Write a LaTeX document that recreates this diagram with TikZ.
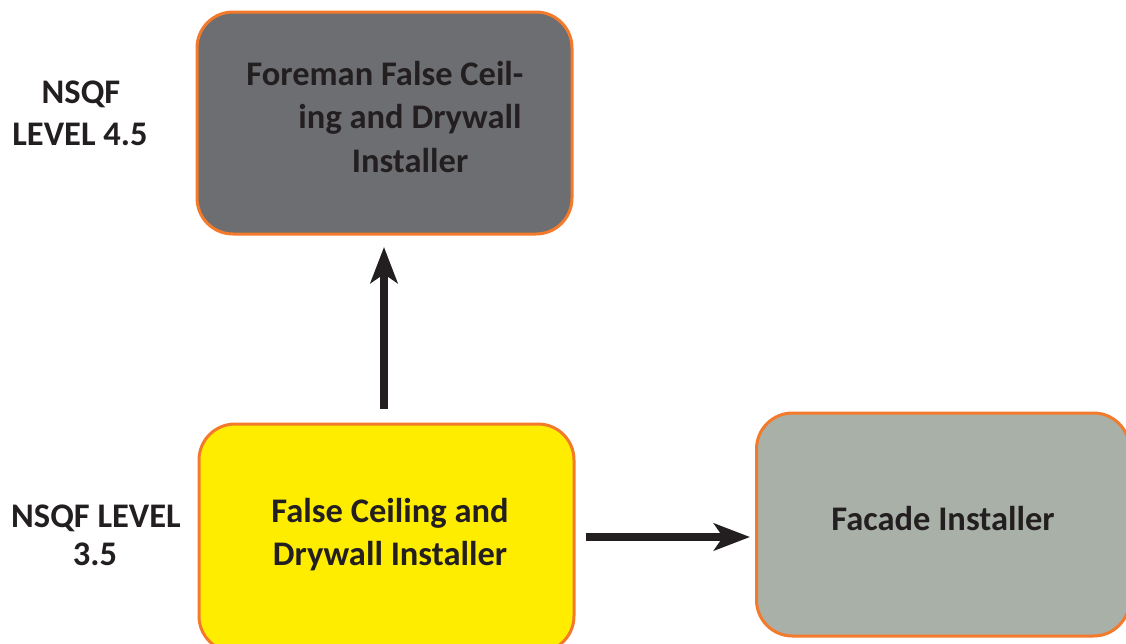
\documentclass[tikz,border=0pt]{standalone}
\usepackage{fontspec}
\setmainfont{Carlito}
\usetikzlibrary{arrows.meta}
\definecolor{boxorange}{HTML}{F37A2A}
\definecolor{darkgrayfill}{HTML}{6D6E71}
\definecolor{yellowfill}{HTML}{FFED00}
\definecolor{sagefill}{HTML}{A9B0A8}
\definecolor{inkdark}{HTML}{231F20}
\begin{document}
\begin{tikzpicture}[x=1pt,y=-1pt,
  box/.style={draw=boxorange, line width=3pt, rounded corners=36pt, inner sep=0pt},
  txt/.style={font=\fontsize{34.5}{42}\selectfont\bfseries, text=inkdark, inner sep=0pt, anchor=base},
  bigarrow/.style={draw=inkdark, line width=8pt, -{Stealth[length=36pt, width=27pt, inset=9pt]}}
]
\useasboundingbox (0,0) rectangle (1126,643);
\begin{scope}
\clip (0,0) rectangle (1126,643);
\node[box, fill=darkgrayfill, minimum width=375pt, minimum height=222pt] (top) at (384.5,123) {};
\node[box, fill=yellowfill, minimum width=375pt, minimum height=228pt] (mid) at (386.5,538) {};
\node[box, fill=sagefill, minimum width=373pt, minimum height=223pt] (fac) at (943,524.5) {};
\end{scope}
\node[txt] (t1) at (385,85) {Foreman False Ceil-};
\node[txt] (t2) at (410,128) {ing and Drywall};
\node[txt] (t3) at (410,172) {Installer};
\node[txt] (m1) at (390,522) {False Ceiling and};
\node[txt] (m2) at (390,565) {Drywall Installer};
\node[txt] (f1) at (943,530) {Facade Installer};
\node[txt] (l1) at (81,103) {NSQF};
\node[txt] (l2) at (80,145) {LEVEL 4.5};
\node[txt] (l3) at (96,527) {NSQF LEVEL};
\node[txt] (l4) at (95,565) {3.5};
\coordinate (upstart) at (384,409);
\coordinate (upend) at (384,247);
\coordinate (rstart) at (586,537);
\coordinate (rend) at (750,537);
\draw[bigarrow] (upstart) -- (upend);
\draw[bigarrow] (rstart) -- (rend);
\end{tikzpicture}
\end{document}
